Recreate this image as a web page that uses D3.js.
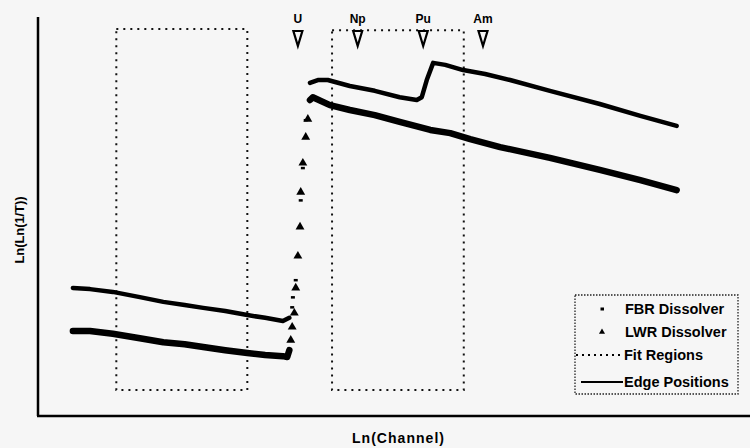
<!DOCTYPE html>
<html>
<head>
<meta charset="utf-8">
<script src="https://cdn.jsdelivr.net/npm/d3@7"></script>
<style>
  body { margin: 0; background: #f6f6f6; }
  svg { display: block; font-family: "Liberation Sans", Arial, sans-serif; font-weight: bold; }
</style>
</head>
<body>
<div id="chart"></div>
<script>
// values (arbitrary units, no ticks on the original)
var fbrLow = [[4.9,32.1],[7.3,31.8],[10.5,31.1],[14.3,29.8],[17.6,28.6],[20.6,27.8],[23.2,27.1],
  [26.3,26.3],[29.4,25.3],[31.9,24.6],[34.4,23.8],[35.3,24.6]];
var fbrRise = [[35.7,27.3],[35.8,29.8],[36.2,34.1],[36.9,54.1],[37.2,62.2],[37.6,74.2]];
var fbrHigh = [[38.2,83.5],[39.3,84.2],[40.7,84.2],[43.8,82.7],[47.3,81.5],[50.8,79.9],[53.2,79.2],
  [53.9,79.9],[54.6,84.2],[55.5,88.5],[57.2,88.0],[59.7,86.7],[62.8,85.7],[66.3,84.2],
  [71.9,81.5],[78.9,78.2],[84.6,75.2],[89.7,72.7]];

var lwrLow = [[4.9,21.3],[7.3,21.3],[10.5,20.6],[14.3,19.5],[17.6,18.5],[20.6,18.0],[23.2,17.3],
  [26.3,16.5],[29.4,15.8],[31.9,15.3],[34.4,15.0],[35.0,14.8],[35.3,16.5]];
var lwrRise = [[35.5,19.0],[35.7,22.3],[36.0,25.8],[36.2,32.1],[36.5,40.1],[36.8,47.4],
  [36.9,56.1],[37.2,63.4],[37.6,69.9],[37.9,74.4]];
var lwrHigh = [[38.2,79.2],[38.6,79.9],[41.0,77.9],[43.8,76.7],[47.3,75.4],[50.8,73.7],[55.1,71.7],
  [57.9,70.9],[60.7,69.4],[64.9,67.4],[71.9,64.7],[78.9,61.7],[84.6,59.1],[89.7,56.6]];

var fitRegions = [{x0: 11.0, x1: 29.4, y0: 6.5, y1: 97.0}, {x0: 41.3, x1: 59.8, y0: 6.5, y1: 96.7}];
var edgeNames = ["U", "Np", "Pu", "Am"];
var edgeX = [36.5, 44.9, 54.1, 62.5];

var legendLabels = ["FBR Dissolver", "LWR Dissolver", "Fit Regions", "Edge Positions"];

var width = 750, height = 448;
var margin = {top: 17, right: 0, bottom: 32, left: 38};

var x = d3.scaleLinear().domain([0, 100]).range([margin.left, width - margin.right]);
var y = d3.scaleLinear().domain([0, 100]).range([height - margin.bottom, margin.top]);

var svg = d3.select("#chart").append("svg")
    .attr("width", width)
    .attr("height", height);

// fit regions
svg.selectAll(".fit")
    .data(fitRegions)
    .enter().append("rect")
    .attr("class", "fit")
    .attr("x", function(d) { return x(d.x0); })
    .attr("y", function(d) { return y(d.y1); })
    .attr("width", function(d) { return x(d.x1) - x(d.x0); })
    .attr("height", function(d) { return y(d.y0) - y(d.y1); })
    .style("fill", "none")
    .style("stroke", "#111")
    .style("stroke-width", 2)
    .style("stroke-dasharray", "2,5");

var line = d3.line()
    .x(function(d) { return x(d[0]); })
    .y(function(d) { return y(d[1]); })
    .curve(d3.curveLinear);

function drawLine(pts, w) {
    svg.append("path")
        .datum(pts)
        .attr("d", line)
        .style("fill", "none")
        .style("stroke", "#000")
        .style("stroke-width", w)
        .style("stroke-linejoin", "round")
        .style("stroke-linecap", "round");
}

drawLine(fbrLow, 4.5);
drawLine(fbrHigh, 4.5);
drawLine(lwrLow, 6.5);
drawLine(lwrHigh, 6.5);

var tri = d3.symbol().type(d3.symbolTriangle).size(34);

svg.selectAll(".lwr")
    .data(lwrRise)
    .enter().append("path")
    .attr("class", "lwr")
    .attr("transform", function(d) { return "translate(" + x(d[0]) + "," + y(d[1]) + ")"; })
    .attr("d", tri)
    .style("fill", "#000");

svg.selectAll(".fbr")
    .data(fbrRise)
    .enter().append("rect")
    .attr("class", "fbr")
    .attr("x", function(d) { return x(d[0]) - 2; })
    .attr("y", function(d) { return y(d[1]) - 1; })
    .attr("width", 4)
    .attr("height", 2.5)
    .style("fill", "#000");

// edge position markers
var edges = svg.selectAll(".edge")
    .data(edgeNames)
    .enter().append("g")
    .attr("class", "edge")
    .attr("transform", function(d, i) { return "translate(" + x(edgeX[i]) + ",0)"; });

edges.append("text")
    .attr("y", 23)
    .attr("text-anchor", "middle")
    .attr("font-size", 12)
    .text(function(d) { return d; });

edges.append("path")
    .attr("d", "M-4.5,31 L4.5,31 L0,46 Z")
    .style("fill", "none")
    .style("stroke", "#000")
    .style("stroke-width", 2.2)
    .style("stroke-linejoin", "miter");

// axes (no ticks on the original)
svg.append("line")
    .attr("x1", x(0)).attr("x2", x(0))
    .attr("y1", y(100)).attr("y2", y(0))
    .style("stroke", "#000").style("stroke-width", 2.5);
svg.append("line")
    .attr("x1", x(0) - 1).attr("x2", x(100))
    .attr("y1", y(0)).attr("y2", y(0))
    .style("stroke", "#000").style("stroke-width", 2.5);

svg.append("text")
    .attr("x", 398)
    .attr("y", 443)
    .attr("text-anchor", "middle")
    .attr("font-size", 14)
    .attr("textLength", 92)
    .text("Ln(Channel)");

svg.append("text")
    .attr("transform", "translate(24," + 230 + ") rotate(-90)")
    .attr("text-anchor", "middle")
    .attr("font-size", 13)
    .attr("textLength", 67)
    .text("Ln(Ln(1/T))");

// legend
var lg = svg.append("g").attr("transform", "translate(575,295)");
lg.append("rect")
    .attr("width", 163).attr("height", 99)
    .style("fill", "none")
    .style("stroke", "#222")
    .style("stroke-width", 1.3)
    .style("stroke-dasharray", "1.5,1.5");

var rowY = [14, 37, 60, 87];
lg.selectAll(".lgtext")
    .data(legendLabels)
    .enter().append("text")
    .attr("class", "lgtext")
    .attr("x", function(d, i) { return i < 2 ? 50 : 49; })
    .attr("y", function(d, i) { return rowY[i] + 5; })
    .attr("font-size", 14.5)
    .text(function(d) { return d; });

lg.append("rect").attr("x", 25.5).attr("y", rowY[0] - 1.5).attr("width", 3.5).attr("height", 3).style("fill", "#000");
lg.append("path")
    .attr("transform", "translate(27," + rowY[1] + ")")
    .attr("d", d3.symbol().type(d3.symbolTriangle).size(16))
    .style("fill", "#000");
lg.append("line")
    .attr("x1", 1).attr("x2", 48).attr("y1", rowY[2]).attr("y2", rowY[2])
    .style("stroke", "#000").style("stroke-width", 2).style("stroke-dasharray", "2,4");
lg.append("line")
    .attr("x1", 6).attr("x2", 48).attr("y1", rowY[3]).attr("y2", rowY[3])
    .style("stroke", "#000").style("stroke-width", 2);
</script>
</body>
</html>
